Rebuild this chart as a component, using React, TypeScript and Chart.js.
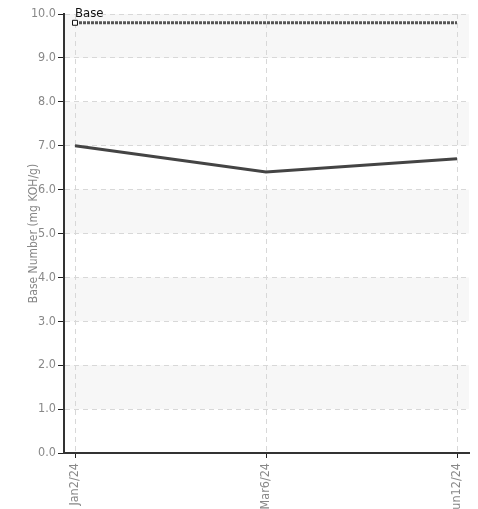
import React, { useEffect, useRef } from "react";
import { Chart, registerables } from "chart.js";

Chart.register(...registerables);

const categories = ["Jan2/24", "Mar6/24", "Jun12/24"];
const baseNumber = [7.0, 6.4, 6.7];
const baseLimit = [9.8, 9.8, 9.8];
const limitLabel = "Base";
const yTitle = "Base Number (mg KOH/g)";
const yTicks = [0, 1, 2, 3, 4, 5, 6, 7, 8, 9, 10];

const FONT = "'DejaVu Sans Condensed', 'Liberation Sans Narrow', sans-serif";

const bandsPlugin = {
  id: "bands",
  beforeDraw(chart: any) {
    const { ctx, chartArea } = chart;
    const y = chart.scales.y;
    ctx.save();
    ctx.fillStyle = "#f7f7f7";
    for (let v = 1; v < 10; v += 2) {
      const top = y.getPixelForValue(v + 1);
      const bot = y.getPixelForValue(v);
      ctx.fillRect(chartArea.left, top, chartArea.right - chartArea.left, bot - top);
    }
    ctx.restore();
  },
};

const labelPlugin = {
  id: "limitLabel",
  afterDatasetsDraw(chart: any) {
    const meta = chart.getDatasetMeta(1);
    const p = meta.data[0];
    if (!p) return;
    const { ctx } = chart;
    ctx.save();
    ctx.font = "13px " + FONT;
    ctx.fillStyle = "#111";
    ctx.textAlign = "left";
    ctx.textBaseline = "bottom";
    ctx.fillText(limitLabel, p.x, p.y - 3);
    ctx.restore();
  },
};

export default function App() {
  const ref = useRef<HTMLCanvasElement>(null);
  useEffect(() => {
    const chart = new Chart(ref.current!, {
      type: "line",
      data: {
        datasets: [
          {
            label: "Base Number",
            data: baseNumber.map((v, i) => ({ x: i, y: v })),
            borderColor: "#444",
            borderWidth: 3,
            pointRadius: 0,
            tension: 0,
          },
          {
            label: limitLabel,
            data: baseLimit.map((v, i) => ({ x: i, y: v })),
            borderColor: "#555",
            borderWidth: 3,
            borderDash: [3, 1],
            pointRadius: [3.5, 0, 0],
            pointStyle: "rect",
            pointBackgroundColor: "#fff",
            pointBorderColor: "#111",
            pointBorderWidth: 1,
          },
        ],
      },
      options: {
        animation: false,
        responsive: false,
        layout: { padding: { top: 14, right: 9, left: 0, bottom: 0 } },
        plugins: { legend: { display: false }, tooltip: { enabled: false } },
        scales: {
          x: {
            type: "linear",
            min: -11 / 191,
            max: 2 + 12 / 191,
            afterBuildTicks: (s: any) => {
              s.ticks = categories.map((_, i) => ({ value: i }));
            },
            afterFit: (s: any) => {
              s.height = 56;
            },
            ticks: {
              callback: (v: any) => categories[v],
              minRotation: 90,
              maxRotation: 90,
              color: "#888",
              font: { family: FONT, size: 12.5 },
              padding: 5,
            },
            grid: {
              color: "#d8d8d8",
              tickBorderDash: [],
              tickColor: "#222",
              tickLength: 5,
            },
            border: { color: "#333", width: 2, dash: [5, 4] },
          },
          y: {
            min: 0,
            max: 10,
            afterBuildTicks: (s: any) => {
              s.ticks = yTicks.map((v) => ({ value: v }));
            },
            afterFit: (s: any) => {
              s.width = 64;
            },
            ticks: {
              callback: (v: any) => Number(v).toFixed(1),
              color: "#888",
              font: { family: FONT, size: 12.5 },
              padding: 2,
            },
            title: {
              display: true,
              text: yTitle,
              color: "#888",
              font: { family: FONT, size: 12 },
              padding: { top: 27, bottom: 0 },
            },
            grid: {
              color: "#d8d8d8",
              tickBorderDash: [],
              tickColor: "#222",
              tickLength: 6,
            },
            border: { color: "#333", width: 2, dash: [5, 4] },
          },
        },
      },
      plugins: [bandsPlugin, labelPlugin],
    } as any);
    return () => chart.destroy();
  }, []);
  return (
    <div style={{ position: "fixed", left: 0, top: 0, width: 478, height: 509 }}>
      <canvas ref={ref} width={478} height={509} style={{ display: "block" }} />
    </div>
  );
}
